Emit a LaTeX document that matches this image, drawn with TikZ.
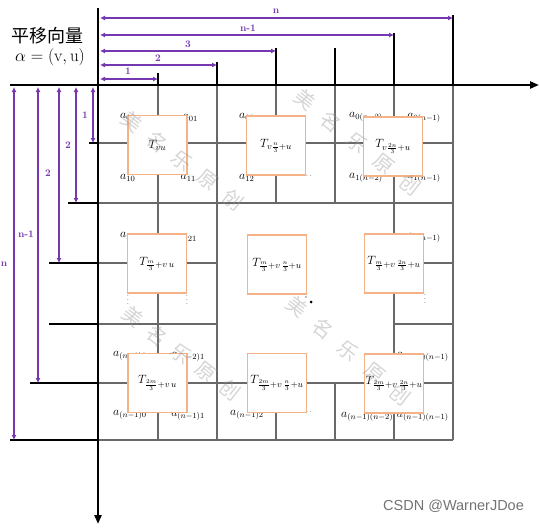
\documentclass[tikz,border=0pt]{standalone}
\usepackage{fontspec}
\usetikzlibrary{arrows.meta}
\newfontfamily\cjk{Noto Sans CJK SC}
\newfontfamily\csdnfont{Liberation Sans}
\definecolor{dimpurple}{RGB}{118,56,176}
\definecolor{boxorange}{RGB}{245,178,135}
\definecolor{gridgray}{RGB}{105,105,105}
\definecolor{wmgray}{RGB}{150,150,150}
\begin{document}
\begin{tikzpicture}[x=1pt,y=-1pt,
  axisline/.style={line width=2.4pt,-{Triangle[length=9pt,width=7pt]}},
  tickline/.style={line width=1.6pt},
  gridline/.style={gridgray,line width=1.1pt},
  dimarrow/.style={dimpurple,line width=1.4pt,{Latex[length=5pt,width=5pt]}-{Latex[length=5pt,width=5pt]}},
  dimlabel/.style={dimpurple,font=\bfseries\fontsize{10}{11}\selectfont,inner sep=0pt},
  tbox/.style={draw=boxorange,fill=white,line width=1.2pt,minimum width=59pt,minimum height=59pt,inner sep=0pt,font=\fontsize{13}{14}\selectfont},
  alabel/.style={font=\fontsize{11.5}{12}\selectfont,inner sep=0pt},
  dotlabel/.style={font=\fontsize{7}{8}\selectfont,inner sep=0pt},
  wm/.style={wmgray,opacity=0.4,font=\cjk\fontsize{20}{20}\selectfont,rotate=-38,inner sep=0pt}
]
\useasboundingbox (0,0) rectangle (539,530);

% grid lines
\draw[gridline] (98,143) -- (453,143);
\draw[gridline] (98,203) -- (453,203);
\draw[gridline] (98,263) -- (217,263);
\draw[gridline] (394,263) -- (453,263);
\draw[gridline] (98,324) -- (217,324);
\draw[gridline] (394,324) -- (453,324);
\draw[gridline] (98,383) -- (453,383);
\draw[gridline] (98,440) -- (453,440);
\draw[gridline] (158,85) -- (158,440);
\draw[gridline] (217,85) -- (217,440);
\draw[gridline] (276,85) -- (276,203);
\draw[gridline] (276,383) -- (276,440);
\draw[gridline] (335,85) -- (335,203);
\draw[gridline] (335,383) -- (335,440);
\draw[gridline] (394,85) -- (394,440);
\draw[gridline] (453,85) -- (453,440);

% black ticks
\draw[tickline] (158,73) -- (158,85);
\draw[tickline] (217,62) -- (217,85);
\draw[tickline] (276,48) -- (276,85);
\draw[tickline] (335,48) -- (335,85);
\draw[tickline] (394,33) -- (394,85);
\draw[tickline] (453,15) -- (453,85);
\draw[tickline] (89,143) -- (98,143);
\draw[tickline] (68,203) -- (98,203);
\draw[tickline] (49,263) -- (98,263);
\draw[tickline] (49,324) -- (98,324);
\draw[tickline] (30,383) -- (98,383);
\draw[tickline] (10,440) -- (98,440);

% axes
\coordinate (hx0) at (10,85);
\coordinate (hx1) at (539,85);
\coordinate (vy0) at (98,8);
\coordinate (vy1) at (98,524);
\draw[axisline] (hx0) -- (hx1);
\draw[axisline] (vy0) -- (vy1);

% element labels (behind boxes)
\node[alabel,anchor=west] (a00) at (120,117) {$a_{00}$};
\node[alabel,anchor=east] (a01) at (198,118) {$a_{01}$};
\node[alabel,anchor=west] (a10) at (120,178) {$a_{10}$};
\node[alabel,anchor=east] (a11) at (196,178) {$a_{11}$};
\node[alabel,anchor=west] (a02) at (239,117) {$a_{02}$};
\node[alabel,anchor=west] (a12) at (239,178) {$a_{12}$};
\node[dotlabel,anchor=west] (d1) at (302,176) {$\cdots$};
\node[alabel,anchor=west] (a0n2) at (349,117) {$a_{0(n-2)}$};
\node[alabel,anchor=east] (a0n1) at (441,118) {$a_{0(n-1)}$};
\node[alabel,anchor=west] (a1n2) at (349,178) {$a_{1(n-2)}$};
\node[alabel,anchor=east] (a1n1) at (441,178) {$a_{1(n-1)}$};
\node[alabel,anchor=west] (a20) at (120,236) {$a_{20}$};
\node[alabel,anchor=east] (a21) at (197,238) {$a_{21}$};
\node[dotlabel] (v1) at (128,297) {$\vdots$};
\node[dotlabel] (v2) at (187,297) {$\vdots$};
\node[alabel,anchor=east] (a2n1) at (441,238) {$a_{2(n-1)}$};
\node[dotlabel] (v3) at (425,296) {$\vdots$};
\node[alabel,anchor=west] (an20) at (113,356) {$a_{(n-2)0}$};
\node[alabel,anchor=east] (an21) at (205,357) {$a_{(n-2)1}$};
\node[alabel,anchor=west] (an10) at (113,415) {$a_{(n-1)0}$};
\node[alabel,anchor=east] (an11) at (205,416) {$a_{(n-1)1}$};
\node[alabel,anchor=west] (an12) at (230,415) {$a_{(n-1)2}$};
\node[dotlabel,anchor=west] (d2) at (302,412) {$\cdots$};
\node[alabel,anchor=east] (an2n1) at (449,357) {$a_{(n-2)(n-1)}$};
\node[alabel,anchor=west] (an1n2) at (341,417) {$a_{(n-1)(n-2)}$};
\node[alabel,anchor=east] (an1n1) at (449,417) {$a_{(n-1)(n-1)}$};
\fill (306,297) circle (0.7pt);
\fill (311,302) circle (1.5pt);

% translated blocks
\node[tbox] (b1) at (157.5,145) {$T_{vu}$};
\node[tbox] (b2) at (276,145.5) {$T_{v\frac{n}{3}+u}$};
\node[tbox] (b3) at (393,146.5) {$T_{v\frac{2n}{3}+u}$};
\node[tbox] (b4) at (157,263.5) {$T_{\frac{m}{3}+v\,u}$};
\node[tbox] (b5) at (277,264.5) {$T_{\frac{m}{3}+v\,\frac{n}{3}+u}$};
\node[tbox] (b6) at (394,263.5) {$T_{\frac{m}{3}+v\,\frac{2n}{3}+u}$};
\node[tbox] (b7) at (157.5,383) {$T_{\frac{2m}{3}+v\,u}$};
\node[tbox] (b8) at (277,383) {$T_{\frac{2m}{3}+v\,\frac{n}{3}+u}$};
\node[tbox] (b9) at (394,383.5) {$T_{\frac{2m}{3}+v\,\frac{2n}{3}+u}$};

% top dimension arrows
\coordinate (t0a) at (100,79);  \coordinate (t0b) at (158,79);
\coordinate (t1a) at (100,65);  \coordinate (t1b) at (217,65);
\coordinate (t2a) at (100,51);  \coordinate (t2b) at (276,51);
\coordinate (t3a) at (100,35);  \coordinate (t3b) at (394,35);
\coordinate (t4a) at (100,18);  \coordinate (t4b) at (453,18);
\draw[dimarrow] (t0a) -- (t0b);
\draw[dimarrow] (t1a) -- (t1b);
\draw[dimarrow] (t2a) -- (t2b);
\draw[dimarrow] (t3a) -- (t3b);
\draw[dimarrow] (t4a) -- (t4b);
\node[dimlabel] (lt0) at (128,71) {1};
\node[dimlabel] (lt1) at (158,58) {2};
\node[dimlabel] (lt2) at (188,44) {3};
\node[dimlabel] (lt3) at (248,28) {n-1};
\node[dimlabel] (lt4) at (276,11) {n};

% left dimension arrows
\coordinate (l0a) at (93,87);  \coordinate (l0b) at (93,143);
\coordinate (l1a) at (76,87);  \coordinate (l1b) at (76,203);
\coordinate (l2a) at (59,87);  \coordinate (l2b) at (59,263);
\coordinate (l3a) at (38,87);  \coordinate (l3b) at (38,383);
\coordinate (l4a) at (14,87);  \coordinate (l4b) at (14,440);
\draw[dimarrow] (l0a) -- (l0b);
\draw[dimarrow] (l1a) -- (l1b);
\draw[dimarrow] (l2a) -- (l2b);
\draw[dimarrow] (l3a) -- (l3b);
\draw[dimarrow] (l4a) -- (l4b);
\node[dimlabel] (ll0) at (85,115) {1};
\node[dimlabel] (ll1) at (68,145) {2};
\node[dimlabel] (ll2) at (48,173) {2};
\node[dimlabel] (ll3) at (26,234) {n-1};
\node[dimlabel] (ll4) at (4,264) {n};

% title text
\node[font=\cjk\fontsize{18}{18}\selectfont,inner sep=0pt] (title) at (48,36) {平移向量};
\node[font=\fontsize{17}{17}\selectfont,inner sep=0pt] (alpha) at (50,57) {$\alpha=(\mathrm{v},\mathrm{u})$};

% watermarks
\foreach \sx/\sy/\ex/\ey in {132/122/233/200, 305/100/410/185, 297/307/400/395, 133/317/230/390} {
  \foreach \ch [count=\i from 0] in {美,名,乐,原,创} {
    \node[wm] at ({\sx+(\ex-\sx)*\i/4},{\sy+(\ey-\sy)*\i/4}) {\ch};
  }
}

\node[anchor=west,font=\csdnfont\fontsize{14.5}{15}\selectfont,text=black!55,inner sep=0pt] (csdn) at (383,506) {CSDN @WarnerJDoe};
\end{tikzpicture}
\end{document}
